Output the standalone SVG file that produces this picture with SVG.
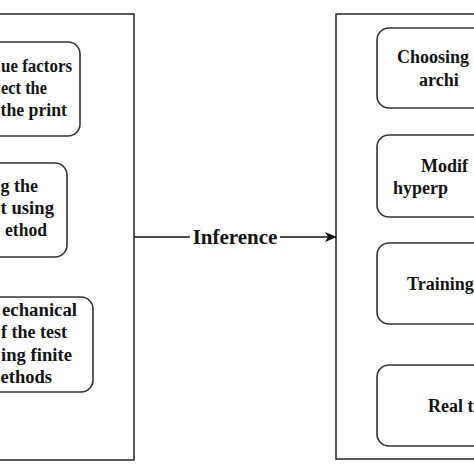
<svg xmlns="http://www.w3.org/2000/svg" width="474" height="474" viewBox="0 0 474 474">
<defs>
<style>
.box{fill:#fff;stroke:#333;stroke-width:1.6}
.node{fill:#fff;stroke:#333;stroke-width:1.6}
.t{font-family:"Liberation Serif","Times New Roman",serif;font-weight:bold;font-size:18px;fill:#141414}
.lbl{font-family:"Liberation Serif","Times New Roman",serif;font-weight:bold;font-size:21px;fill:#141414;text-anchor:middle}
</style>
<marker id="ah" viewBox="0 0 12 10" refX="11" refY="5" markerWidth="12" markerHeight="10" markerUnits="userSpaceOnUse" orient="auto">
<path d="M0,0 L12,5 L0,10 L3,5 Z" fill="#111"/>
</marker>
</defs>
<rect width="474" height="474" fill="#fff"/>
<g id="left-panel">
<rect class="box" x="-20" y="14" width="154" height="446"/>
</g>
<g id="right-panel">
<rect class="box" x="336" y="14" width="170" height="445"/>
</g>
<g id="node-factors">
<rect class="node" x="-60" y="42" width="140" height="94" rx="12"/>
<text class="t" x="1" y="72" textLength="71" lengthAdjust="spacingAndGlyphs">ue factors</text>
<text class="t" x="1" y="94" textLength="46" lengthAdjust="spacingAndGlyphs">ect the</text>
<text class="t" x="0.5" y="116" textLength="66.5" lengthAdjust="spacingAndGlyphs">the print</text>
</g>
<g id="node-method">
<rect class="node" x="-60" y="163" width="127" height="94" rx="12"/>
<text class="t" x="0.5" y="192" textLength="37.5" lengthAdjust="spacingAndGlyphs">g the</text>
<text class="t" x="0.5" y="214" textLength="53.5" lengthAdjust="spacingAndGlyphs">t using</text>
<text class="t" x="5" y="236" textLength="42" lengthAdjust="spacingAndGlyphs">ethod</text>
</g>
<g id="node-mechanical">
<rect class="node" x="-60" y="297" width="153" height="95" rx="12"/>
<text class="t" x="2" y="316" textLength="75" lengthAdjust="spacingAndGlyphs">echanical</text>
<text class="t" x="1" y="338" textLength="66" lengthAdjust="spacingAndGlyphs">f the test</text>
<text class="t" x="1" y="361" textLength="71" lengthAdjust="spacingAndGlyphs">ing finite</text>
<text class="t" x="0.5" y="383" textLength="51.5" lengthAdjust="spacingAndGlyphs">ethods</text>
</g>
<g id="node-choosing">
<rect class="node" x="377" y="28" width="160" height="80" rx="12"/>
<text class="t" x="397" y="63">Choosing</text>
<text class="t" x="419" y="86">archi</text>
</g>
<g id="node-modify">
<rect class="node" x="377" y="135" width="160" height="82" rx="12"/>
<text class="t" x="421" y="172">Modif</text>
<text class="t" x="393" y="194">hyperp</text>
</g>
<g id="node-training">
<rect class="node" x="377" y="243" width="160" height="81" rx="12"/>
<text class="t" x="407" y="290">Training</text>
</g>
<g id="node-real">
<rect class="node" x="377" y="365" width="160" height="81" rx="12"/>
<text class="t" x="428" y="412">Real t</text>
</g>
<g id="connectors">
<line x1="134" y1="237" x2="336" y2="237" stroke="#111" stroke-width="1.6" marker-end="url(#ah)"/>
<rect x="190" y="226" width="90" height="22" fill="#fff"/>
<text class="lbl" x="235" y="244">Inference</text>
</g>
</svg>
